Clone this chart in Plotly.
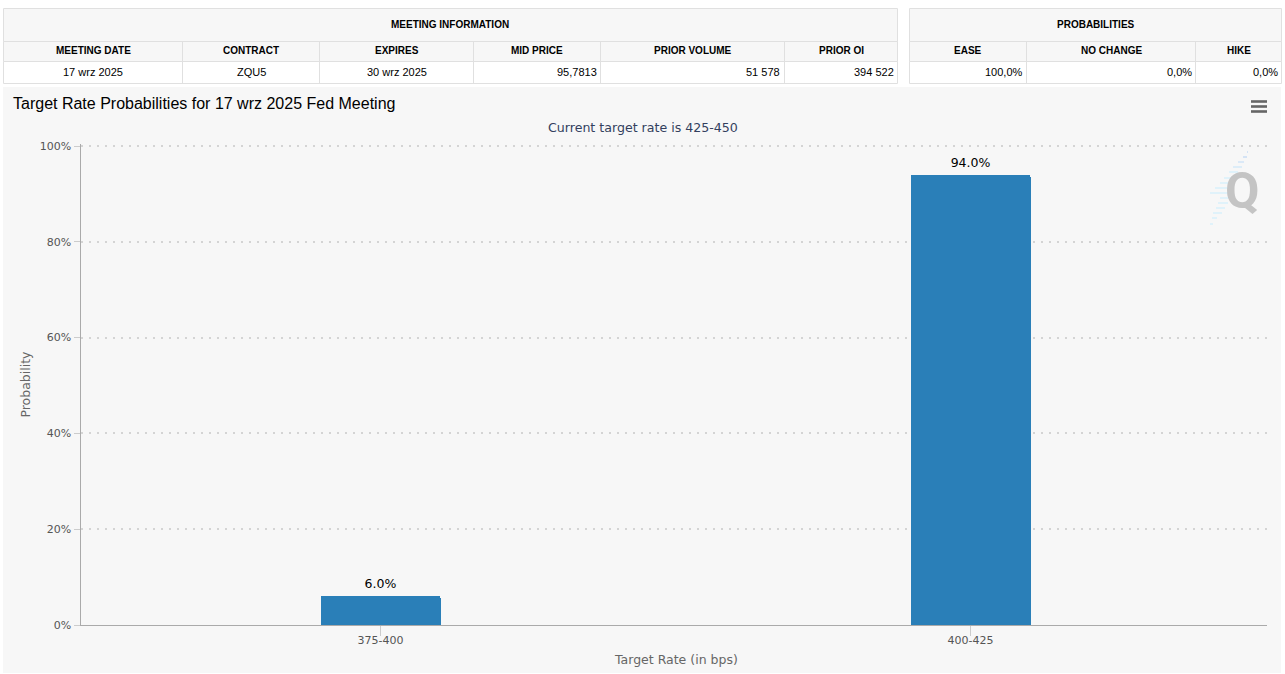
import plotly.graph_objects as go

# ---- data ----
categories = ["375-400", "400-425"]
probabilities = [6.0, 94.0]
y_ticks = [0, 20, 40, 60, 80, 100]

info_title = "MEETING INFORMATION"
info_headers = ["MEETING DATE", "CONTRACT", "EXPIRES", "MID PRICE", "PRIOR VOLUME", "PRIOR OI"]
info_values = ["17 wrz 2025", "ZQU5", "30 wrz 2025", "95,7813", "51 578", "394 522"]
info_align = ["center", "center", "center", "right", "right", "right"]

prob_title = "PROBABILITIES"
prob_headers = ["EASE", "NO CHANGE", "HIKE"]
prob_values = ["100,0%", "0,0%", "0,0%"]
prob_align = ["right", "right", "right"]

chart_title = "Target Rate Probabilities for 17 wrz 2025 Fed Meeting"
chart_subtitle = "Current target rate is 425-450"
x_title = "Target Rate (in bps)"
y_title = "Probability"

# ---- layout helpers (pixels) ----
W, H = 1285, 674
BORDER = "#e0e0e0"
PANEL = "#f7f7f7"
ARIAL = "Liberation Sans"
CHART_FONT = "DejaVu Sans"

def px(x): return x / W
def py(y): return 1 - y / H

shapes, annotations = [], []

def rect(x0, y0, x1, y1, fill, line=None):
    shapes.append(dict(type="rect", xref="paper", yref="paper", layer="below",
                       x0=px(x0), x1=px(x1), y0=py(y0), y1=py(y1), fillcolor=fill,
                       line=dict(color=line or fill, width=1 if line else 0)))

def text(s, x, y, size, color="#000000", family=ARIAL, anchor="center", bold=False):
    annotations.append(dict(text=f"<b>{s}</b>" if bold else s, xref="paper", yref="paper",
                            x=px(x), y=py(y), xanchor=anchor, yanchor="middle", showarrow=False,
                            font=dict(family=family, size=size, color=color)))

ROWS = [8.5, 41.5, 61.5, 83.5]

def draw_table(title, headers, values, aligns, edges):
    rect(edges[0], ROWS[0], edges[-1], ROWS[2], PANEL, BORDER)
    rect(edges[0], ROWS[2], edges[-1], ROWS[3], "#ffffff", BORDER)
    rect(edges[0], ROWS[1], edges[-1], ROWS[2], PANEL, BORDER)
    for e in edges[1:-1]:
        shapes.append(dict(type="line", xref="paper", yref="paper", layer="below",
                           x0=px(e), x1=px(e), y0=py(ROWS[1]), y1=py(ROWS[3]),
                           line=dict(color=BORDER, width=1)))
    text(title, (edges[0] + edges[-1]) / 2, 24.5, 10, bold=True)
    for i, (h, v, a) in enumerate(zip(headers, values, aligns)):
        mid = (edges[i] + edges[i + 1]) / 2
        text(h, mid, 50.5, 10, bold=True)
        if a == "center":
            text(v, mid, 72.5, 11)
        else:
            text(v, edges[i + 1] - 2, 72.5, 11, anchor="right")

draw_table(info_title, info_headers, info_values, info_align,
           [3.5, 182.5, 319.5, 473.5, 600.5, 784.5, 897.5])
draw_table(prob_title, prob_headers, prob_values, prob_align,
           [909.5, 1026.5, 1195.5, 1281.5])

# chart panel
rect(3, 87, 1281, 673, PANEL)

# title texts
text(chart_title, 11, 103.5, 16, anchor="left")
text(chart_subtitle, 643, 127.5, 12.6, color="#333f5e", family=CHART_FONT)
text(x_title, 676, 659.5, 12.5, color="#666666", family=CHART_FONT)

# menu icon
for y in (101.5, 106.5, 111.5):
    shapes.append(dict(type="line", xref="paper", yref="paper", x0=px(1251), x1=px(1267),
                       y0=py(y), y1=py(y), line=dict(color="#666666", width=2.6)))

# logo stripes (y, x0, x1, colour)
logo_stripes = [
    (152, 1247, 1248, "#c9dcf5"), (157, 1243, 1247, "#c9dcf5"), (162, 1238, 1244, "#d2e4f7"),
    (167, 1233, 1242, "#d5eaf9"), (172, 1229, 1238, "#d8f0fb"), (178, 1224, 1233, "#d8f0fb"),
    (183, 1220, 1228, "#d8f0fb"), (188, 1215, 1228, "#d8f0fb"), (193, 1210, 1228, "#d8f0fb"),
    (198, 1220, 1228, "#d8f0fb"), (203, 1218, 1228, "#d8f0fb"), (208, 1216, 1225, "#d8f0fb"),
    (213, 1213, 1222, "#d8f0fb"), (218, 1212, 1217, "#d8f0fb"), (224, 1210, 1213, "#d8f0fb"),
]
for y, x0, x1, c in logo_stripes:
    shapes.append(dict(type="line", xref="paper", yref="paper", layer="above",
                       x0=px(x0), x1=px(x1), y0=py(y), y1=py(y), line=dict(color=c, width=1.5)))
text("Q", 1242, 191, 50, color="#c4c4c4", family="Roboto", bold=True)

# ---- plot geometry ----
L, R, B = 80.5, 1267, 625
Y100 = 146
TOP_VALUE = 100.4
pixels_per_pct = (B - Y100) / 100
T = B - TOP_VALUE * pixels_per_pct
c0, c1 = 380.5, 970.5
unit = c1 - c0

fig = go.Figure()
fig.add_trace(go.Bar(
    x=[0, 1], y=probabilities,
    width=120 / unit,
    marker=dict(color="#2a7fb8", cornerradius=2, line=dict(width=0)),
    hoverinfo="skip",
))
fig.add_trace(go.Scatter(
    x=[0, 1], y=probabilities, mode="markers+text",
    marker=dict(size=6, color="rgba(0,0,0,0)"),
    text=[f"{v:.1f}%" for v in probabilities],
    textposition="top center", cliponaxis=False,
    textfont=dict(family=CHART_FONT, size=12.5, color="#000000"),
    hoverinfo="skip",
))

fig.update_layout(
    width=W, height=H, autosize=False,
    margin=dict(l=0, r=0, t=0, b=0, autoexpand=False),
    paper_bgcolor="#ffffff", plot_bgcolor="rgba(0,0,0,0)",
    showlegend=False, shapes=shapes, annotations=annotations,
    font=dict(family=CHART_FONT),
    xaxis=dict(
        domain=[px(L), px(R)], automargin=False,
        range=[(L - c0) / unit, (R - c0) / unit],
        tickmode="array", tickvals=[0, 1], ticktext=categories,
        ticks="outside", ticklen=10, tickcolor="#cccccc", tickwidth=1, ticklabelstandoff=-5,
        tickfont=dict(family=CHART_FONT, size=11, color="#555555"),
        showgrid=False, zeroline=False, showline=True, linecolor="#aaaaaa", linewidth=1,
    ),
    yaxis=dict(
        domain=[py(B), py(T)], automargin=False,
        range=[0, TOP_VALUE], tickmode="array", tickvals=y_ticks,
        ticktext=[f"{t}%" for t in y_ticks],
        ticks="outside", ticklen=6, tickcolor="#cccccc", tickwidth=1,
        tickfont=dict(family=CHART_FONT, size=11, color="#555555"),
        showgrid=True, gridcolor="#d4d4d4", griddash="2px,6px", gridwidth=2, zeroline=False,
        showline=True, linecolor="#aaaaaa", linewidth=1,
        title=dict(text=y_title, standoff=6, font=dict(family=CHART_FONT, size=12.5, color="#666666")),
    ),
    bargap=0,
)

fig.write_html("out.html", config=dict(displayModeBar=False),
               post_script="document.body.style.margin='0';document.body.style.overflow='hidden';")
